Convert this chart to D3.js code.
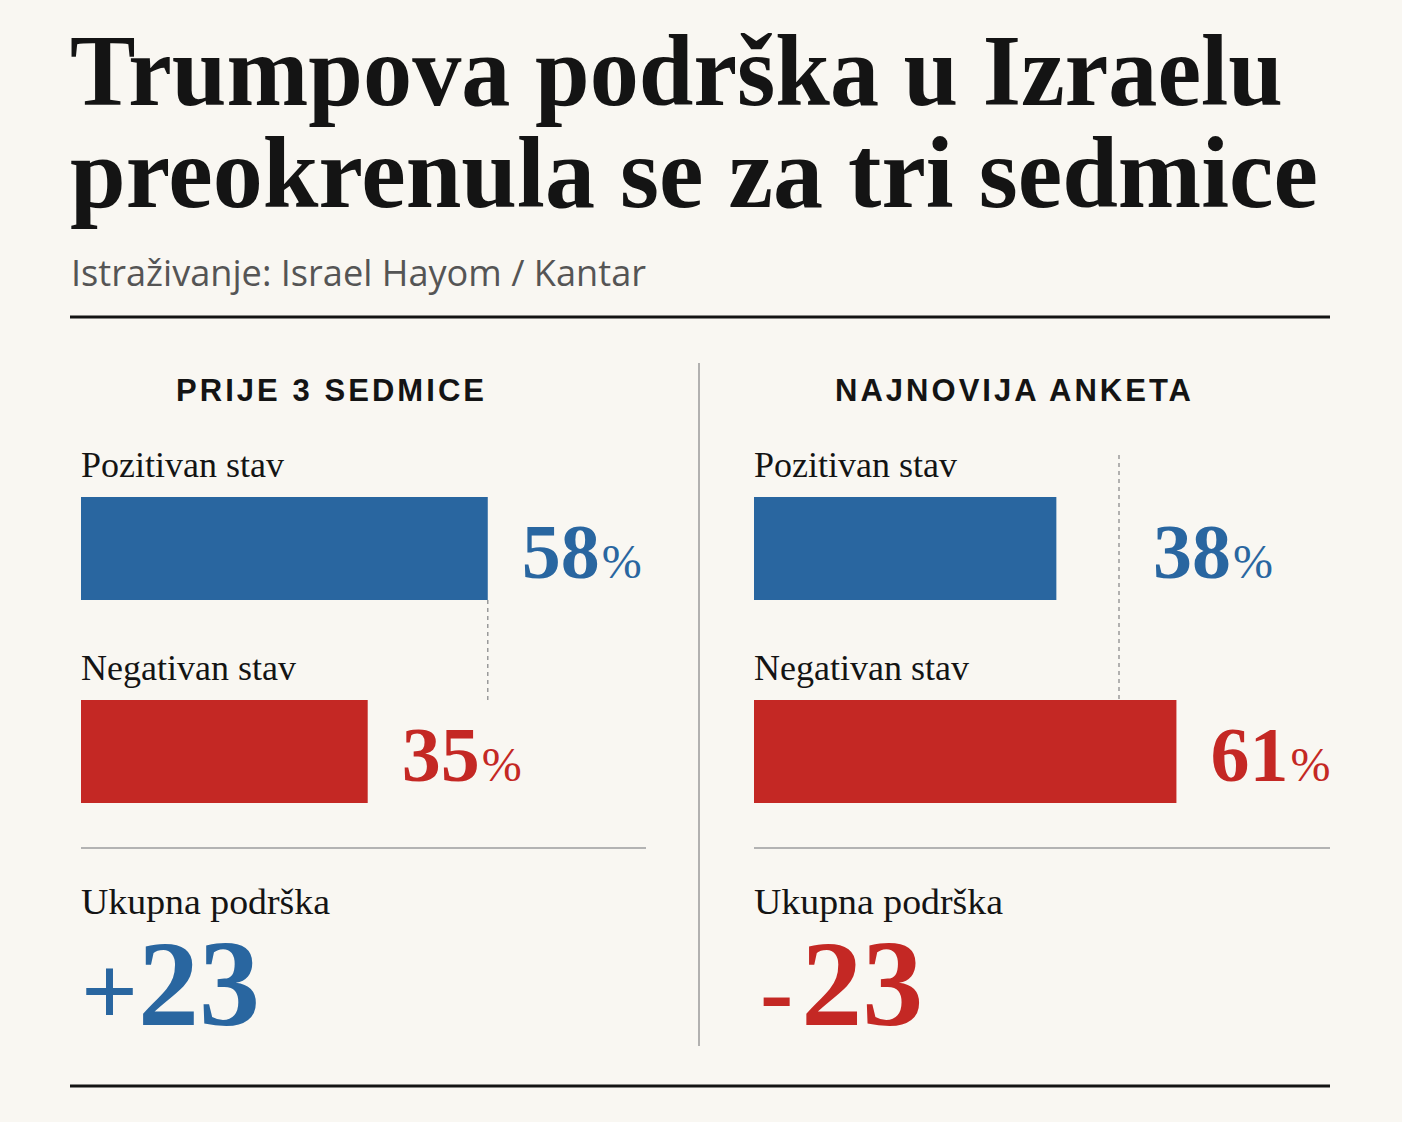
<!DOCTYPE html>
<html><head><meta charset="utf-8">
<script src="https://cdn.jsdelivr.net/npm/d3@7"></script>
<style>html,body{margin:0;padding:0;background:#f9f7f2;} svg{display:block}</style>
</head><body><svg id="c" width="1402" height="1122"></svg>
<script>
// ---- data ----
const titleLines = ["Trumpova podrška u Izraelu", "preokrenula se za tri sedmice"];
const subtitle = "Istraživanje: Israel Hayom / Kantar";
const panelTitles = ["PRIJE 3 SEDMICE", "NAJNOVIJA ANKETA"];
const categories = ["Pozitivan stav", "Negativan stav"];
const positiveValues = [58, 38];
const negativeValues = [35, 61];
const markerValues = [58, 50];
const netLabel = "Ukupna podrška";
const netValues = [23, -23];

// ---- layout / style ----
const BLUE = "#2966a0", RED = "#c42824";
const SERIF = "'Liberation Serif','Times New Roman',serif";
const SANS = "'Liberation Sans',Arial,sans-serif";
const svg = d3.select("#c");
svg.append("rect").attr("width",1402).attr("height",1122).attr("fill","#f9f7f2");

// Title
const titleY = [105, 207], titleLen = [1213, 1248];
svg.selectAll("text.title").data(titleLines).join("text")
  .attr("class","title").attr("x",70).attr("y",(d,i)=>titleY[i])
  .attr("font-family",SERIF).attr("font-weight","bold").attr("font-size",102)
  .attr("fill","#141414")
  .attr("textLength",(d,i)=>titleLen[i]).attr("lengthAdjust","spacingAndGlyphs")
  .text(d=>d);

svg.append("text").attr("x",71).attr("y",286)
  .attr("font-family","'Open Sans','Noto Sans',sans-serif").attr("font-size",36)
  .attr("fill","#555").attr("textLength",575).attr("lengthAdjust","spacingAndGlyphs")
  .text(subtitle);

// rules
svg.append("line").attr("x1",70).attr("x2",1330).attr("y1",317).attr("y2",317)
  .attr("stroke","#141414").attr("stroke-width",3);
svg.append("line").attr("x1",70).attr("x2",1330).attr("y1",1086).attr("y2",1086)
  .attr("stroke","#141414").attr("stroke-width",3);
svg.append("line").attr("x1",699).attr("x2",699).attr("y1",363).attr("y2",1046)
  .attr("stroke","#9a9a9a").attr("stroke-width",1.5);

const x = d3.scaleLinear().domain([0,100]).range([104,626]);
const y = d3.scalePoint().domain(categories).range([497,700]);
const barH = 103;
const panelX = [81, 754];
const ruleEnd = [646, 1330];
const headX = [176, 835], headLen = [308, 356];

panelTitles.forEach((pt, i) => {
  const g = svg.append("g");
  const px = panelX[i];
  g.append("text").attr("x",headX[i]).attr("y",401)
    .attr("font-family",SANS).attr("font-weight","bold").attr("font-size",31)
    .attr("fill","#141414").attr("textLength",headLen[i]).attr("lengthAdjust","spacing")
    .text(pt);

  const rows = [
    {cat: categories[0], v: positiveValues[i], color: BLUE},
    {cat: categories[1], v: negativeValues[i], color: RED}
  ];
  const mX = px + x(markerValues[i]);
  const mTop = positiveValues[i] >= markerValues[i] ? y(categories[0]) + barH : y(categories[0]) - 42;
  g.append("line").attr("x1",mX).attr("x2",mX).attr("y1",mTop).attr("y2",y(categories[1]))
    .attr("stroke","#9a9a9a").attr("stroke-width",1.5).attr("stroke-dasharray","4,4");

  rows.forEach((r, j) => {
    g.append("text").attr("x",px).attr("y",y(r.cat)-20)
      .attr("font-family",SERIF).attr("font-size",36).attr("fill","#141414")
      .text(r.cat);
    g.append("rect").attr("x",px).attr("y",y(r.cat)).attr("width",x(r.v)).attr("height",barH)
      .attr("fill",r.color);
    const barEnd = px + x(r.v);
    const beside = (j === 0 && mTop < y(r.cat) + barH) ? mX : 0;
    const lx = Math.max(barEnd, beside) + 34;
    const t = g.append("text").attr("x",lx).attr("y",y(r.cat)+81)
      .attr("font-family",SERIF).attr("fill",r.color);
    t.append("tspan").attr("font-size",78).attr("font-weight","bold").text(r.v);
    t.append("tspan").attr("font-size",48).attr("dx",2).text("%");
  });

  g.append("line").attr("x1",px).attr("x2",ruleEnd[i]).attr("y1",848).attr("y2",848)
    .attr("stroke","#b3b3b3").attr("stroke-width",2);
  g.append("text").attr("x",px).attr("y",914)
    .attr("font-family",SERIF).attr("font-size",36).attr("fill","#141414")
    .attr("textLength",249).attr("lengthAdjust","spacingAndGlyphs").text(netLabel);
  const nv = netValues[i];
  const nt = g.append("text").attr("x",px + (nv >= 0 ? 0 : 6)).attr("y",1025)
    .attr("font-family",SERIF).attr("fill", nv >= 0 ? BLUE : RED);
  nt.append("tspan").attr("font-size",100).attr("font-weight","bold").text(nv >= 0 ? "+" : "-");
  nt.append("tspan").attr("font-size",122).attr("font-weight","bold").attr("dx", nv >= 0 ? 0 : 8).text(Math.abs(nv));
});
</script></body></html>
